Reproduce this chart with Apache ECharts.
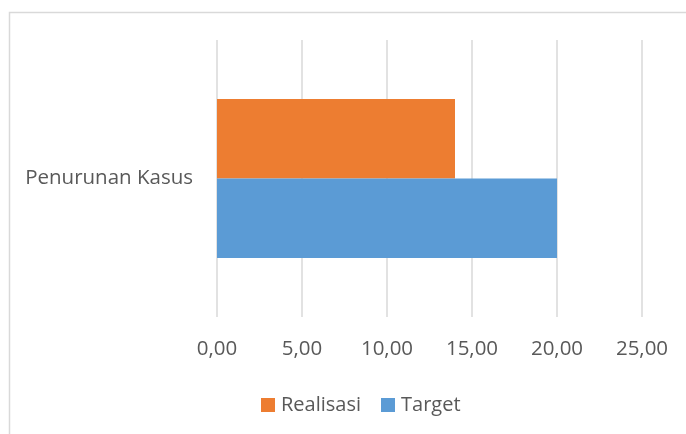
<!DOCTYPE html>
<html>
<head>
<meta charset="utf-8">
<script src="https://cdn.jsdelivr.net/npm/echarts@6/dist/echarts.min.js"></script>
<style>
html,body{margin:0;padding:0;background:#fff;}
#c{width:686px;height:434px;}
</style>
</head>
<body>
<div id="c"></div>
<script>
var categories = ['Penurunan Kasus'];
var targetValues = [20];
var realisasiValues = [14];
var seriesNames = ['Realisasi', 'Target'];

var chart = echarts.init(document.getElementById('c'), null, {renderer: 'canvas'});
var font = '"Open Sans", sans-serif';
chart.setOption({
  animation: false,
  backgroundColor: '#fff',
  graphic: [{
    type: 'rect', left: 7, top: 10, silent: true,
    shape: {width: 720, height: 460},
    style: {fill: 'none', stroke: '#d9d9d9', lineWidth: 1.5}
  }],
  grid: {left: 217, right: 44, top: 40, bottom: 117, containLabel: false},
  xAxis: {
    type: 'value', min: 0, max: 25, interval: 5,
    axisLine: {show: false}, axisTick: {show: false},
    splitLine: {lineStyle: {color: '#d9d9d9', width: 1.5}},
    axisLabel: {
      color: '#595959', fontFamily: font, fontSize: 20.5, margin: 22,
      formatter: function (v) { return v.toFixed(2).replace('.', ','); }
    }
  },
  yAxis: {
    type: 'category', data: categories,
    axisLine: {show: false}, axisTick: {show: false},
    axisLabel: {color: '#595959', fontFamily: font, fontSize: 20.5, margin: 24}
  },
  legend: {
    data: seriesNames, left: 256, top: 390,
    itemWidth: 14, itemHeight: 14, itemGap: 20,
    icon: 'rect',
    textStyle: {color: '#595959', fontFamily: font, fontSize: 20, padding: [0,0,0,1]}
  },
  series: [
    {name: 'Realisasi', type: 'bar', data: realisasiValues, barGap: '0%', barCategoryGap: '42.6%',
     itemStyle: {color: '#ED7D31'}},
    {name: 'Target', type: 'bar', data: targetValues, barGap: '0%', barCategoryGap: '42.6%',
     itemStyle: {color: '#5B9BD5'}}
  ]
});
</script>
</body>
</html>
